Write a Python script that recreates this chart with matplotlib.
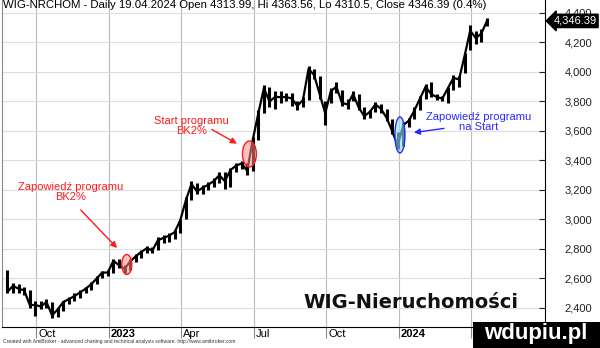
import numpy as np
import pandas as pd
import matplotlib
matplotlib.use("Agg")
import matplotlib.pyplot as plt
from matplotlib.patches import Ellipse, Rectangle

plt.rcParams['font.family'] = ['Liberation Sans', 'DejaVu Sans']

# weekly bars (week ending Friday)
START = "2022-08-22"
weeks = pd.date_range("2022-08-26", periods=87, freq="W-FRI")

close = [2510, 2550, 2530, 2520, 2420, 2420, 2410, 2440, 2350, 2390,
         2440, 2460, 2480, 2505, 2530, 2560, 2600, 2640, 2640, 2720,
         2690, 2665, 2715, 2750, 2780, 2805, 2790, 2860, 2875, 2890,
         2915, 2995, 3130, 3240, 3190, 3215, 3235, 3260, 3300, 3260,
         3335, 3365, 3380, 3330, 3540, 3720, 3890, 3800, 3830, 3830,
         3830, 3820, 3770, 3810, 4020, 3980, 3850, 3720, 3870, 3900,
         3790, 3780, 3850, 3760, 3700, 3730, 3780, 3750, 3690, 3600,
         3500, 3640, 3670, 3740, 3820, 3900, 3850, 3830, 3820, 3890,
         3960, 3950, 4110, 4280, 4230, 4260, 4346]
high = [2660, 2570, 2560, 2540, 2520, 2450, 2450, 2460, 2440, 2400,
        2450, 2475, 2500, 2520, 2545, 2575, 2620, 2650, 2660, 2735,
        2730, 2690, 2730, 2765, 2790, 2820, 2815, 2880, 2895, 2905,
        2930, 3005, 3150, 3260, 3250, 3235, 3255, 3280, 3320, 3320,
        3350, 3380, 3395, 3385, 3560, 3740, 3910, 3900, 3870, 3870,
        3860, 3860, 3800, 3830, 4040, 4020, 3970, 3800, 3890, 3935,
        3880, 3820, 3870, 3850, 3760, 3745, 3795, 3785, 3750, 3680,
        3590, 3660, 3690, 3760, 3840, 3920, 3930, 3850, 3840, 3900,
        3980, 3975, 4130, 4320, 4280, 4290, 4363]
low = [2500, 2500, 2500, 2490, 2400, 2345, 2395, 2400, 2330, 2340,
       2380, 2430, 2450, 2470, 2500, 2520, 2560, 2600, 2615, 2640,
       2670, 2640, 2660, 2710, 2740, 2770, 2770, 2790, 2840, 2850,
       2870, 2905, 3000, 3130, 3170, 3175, 3200, 3220, 3250, 3210,
       3220, 3320, 3340, 3300, 3330, 3540, 3720, 3760, 3750, 3790,
       3800, 3770, 3740, 3760, 3810, 3950, 3820, 3640, 3790, 3860,
       3770, 3750, 3800, 3740, 3680, 3690, 3730, 3720, 3670, 3580,
       3480, 3500, 3630, 3680, 3740, 3820, 3830, 3810, 3800, 3790,
       3880, 3900, 3990, 4150, 4190, 4200, 4310]

tick_dates = ["2022-10-03", "2023-01-02", "2023-04-03", "2023-07-03",
              "2023-10-02", "2024-01-01", "2024-04-01"]
tick_labels = ["Oct", "2023", "Apr", "Jul", "Oct", "2024", "Apr"]
y_ticks = [2400, 2600, 2800, 3000, 3200, 3400, 3600, 3800, 4000, 4200, 4400]
last_close = 4346.39

title = ("WIG-NRCHOM - Daily 19.04.2024 Open 4313.99, Hi 4363.56, "
         "Lo 4310.5, Close 4346.39 (0.4%)")


def bar(d):
    # AmiBroker spaces bars by trading day, not by calendar
    return np.busday_count(START, np.array(d, dtype="datetime64[D]"))


x = bar(weeks.values.astype("datetime64[D]"))

fig = plt.figure(figsize=(6, 3.48), dpi=100)
ax = fig.add_axes([2 / 600, 21 / 348, 543 / 600, 327 / 348])

ax.vlines(x, low, high, color="black", lw=2.2, zorder=3)
ax.plot(x, close, color="black", lw=1.6, zorder=3)

ax.set_xlim(-0.9, 486.1)
ax.set_ylim(2271, 4488)

# y axis on the right
ax.yaxis.tick_right()
ax.set_yticks(y_ticks)
ax.set_yticklabels([f"{v:,}" for v in y_ticks])
ax.tick_params(axis="y", direction="in", length=4, pad=14, labelsize=8,
               colors="#222222")

ax.set_xticks(bar(tick_dates))
ax.set_xticklabels([])
ax.tick_params(axis="x", direction="out", length=8, width=0.8,
               colors="#888888")
for d, lab in zip(tick_dates, tick_labels):
    ax.text(bar(d) + 1.5, -0.005, lab, transform=ax.get_xaxis_transform(),
            ha="left", va="top", fontsize=8,
            fontweight="bold" if lab.isdigit() else "normal")

ax.grid(True, axis="y", color="#dddddd", lw=0.8, zorder=0)
ax.grid(True, axis="x", color="#bbbbbb", lw=0.8, zorder=0)
ax.spines["top"].set_visible(False)
ax.spines["left"].set_color("#888888")
ax.spines["right"].set_color("black")
ax.spines["bottom"].set_color("black")

ax.text(0.002, 0.999, title, transform=ax.transAxes, ha="left", va="top",
        fontsize=8.2, zorder=5)

# last price tag
ax.annotate(f"{last_close:,.2f}", xy=(1.0, last_close),
            xycoords=ax.get_yaxis_transform(), xytext=(6, 0),
            textcoords="offset points", ha="left", va="center",
            fontsize=8, color="white", annotation_clip=False,
            bbox=dict(boxstyle="larrow,pad=0.15", fc="black", ec="black"))

# annotations
red = "#ff1a1a"
blue = "#2a2aff"
ax.add_patch(Ellipse((bar("2023-01-24"), 2695), 9, 135, fc=(1, 0.55, 0.55, 0.55),
                     ec=red, lw=1.0, zorder=4))
ax.add_patch(Ellipse((bar("2023-06-27"), 3444), 12.5, 176, fc=(1, 0.55, 0.55, 0.55),
                     ec=red, lw=1.0, zorder=4))
ax.add_patch(Ellipse((bar("2024-01-02"), 3573), 9, 244, fc=(0.55, 0.9, 1, 0.6),
                     ec=blue, lw=1.0, zorder=4))

ax.text(bar("2022-11-15"), 3183, "Zapowiedź programu\nBK2%", color=red,
        ha="center", va="center", fontsize=8, linespacing=1.0, zorder=5)
ax.annotate("", xy=(bar("2023-01-13"), 2793), xytext=(bar("2022-11-24"), 3078),
            arrowprops=dict(arrowstyle="-|>", color=red, lw=1.0,
                            mutation_scale=9), zorder=5)

ax.text(bar("2023-04-14"), 3637, "Start programu\nBK2%", color=red,
        ha="center", va="center", fontsize=8, linespacing=1.0, zorder=5)
ax.annotate("", xy=(bar("2023-06-14"), 3505), xytext=(bar("2023-05-08"), 3620),
            arrowprops=dict(arrowstyle="-|>", color=red, lw=1.0,
                            mutation_scale=9), zorder=5)

ax.text(bar("2024-04-10"), 3661, "Zapowiedź programu\nna Start", color=blue,
        ha="center", va="center", fontsize=8, linespacing=1.0, zorder=5)
ax.annotate("", xy=(bar("2024-01-16"), 3587), xytext=(bar("2024-02-29"), 3620),
            arrowprops=dict(arrowstyle="-|>", color=blue, lw=1.0,
                            mutation_scale=9), zorder=5)

fig.text(411 / 600, 1 - 302 / 348, "WIG-Nieruchomości", ha="center",
         va="center", fontsize=14, fontweight="bold", family="DejaVu Sans",
         color="#111111", zorder=6)

fig.text(3 / 600, 1 - 342 / 348,
         "Created with AmiBroker - advanced charting and technical analysis "
         "software. http://www.amibroker.com", fontsize=3.6, ha="left",
         va="center", color="#333333")

# watermark box
fig.patches.append(Rectangle((473 / 600, 0), 127 / 600, 26 / 348,
                             transform=fig.transFigure, fc="black", ec="none",
                             zorder=10))
fig.text(536 / 600, 1 - 334 / 348, "wdupiu.pl", ha="center", va="center",
         fontsize=16, fontweight="bold", color="white", zorder=11)

fig.savefig("out.png", dpi=100)
